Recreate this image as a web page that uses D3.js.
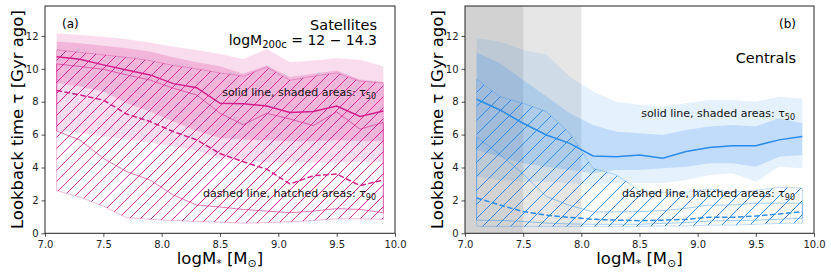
<!DOCTYPE html>
<html><head><meta charset="utf-8">
<script src="https://cdn.jsdelivr.net/npm/d3@7"></script>
<style>body{margin:0;background:#fff} svg text{font-family:"DejaVu Sans",sans-serif}</style>
</head><body><svg id="c" width="831" height="276"></svg>
<script>
// ---- data ----
const mass = [7.1,7.3,7.5,7.7,7.9,8.1,8.3,8.5,8.7,8.9,9.1,9.3,9.5,9.7,9.9];
const xTicks = [7.0,7.5,8.0,8.5,9.0,9.5,10.0];
const yTicks = [0,2,4,6,8,10,12];
const grayBands = [[7.0,8.0],[7.0,7.5]];

// Satellites (a)
const satT50Med   = [10.74,10.58,10.24,9.93,9.63,9.1,8.85,7.9,7.87,7.74,7.34,7.4,7.74,7.1,7.44];
const satT50InHi  = [11.66,11.56,11.41,11.25,11.05,10.7,10.4,10.15,9.7,10.2,9.5,9.7,9.9,9.35,9.2];
const satT50InLo  = [9.12,8.92,8.62,7.9,7.4,6.8,6.2,5.8,5.7,5.65,5.6,5.6,5.65,5.6,5.6];
const satT50OutHi = [12.15,12.05,11.95,11.8,11.6,11.35,11.15,10.9,10.6,11.2,10.4,10.5,10.65,10.55,10.15];
const satT50OutLo = [6.25,6.1,5.9,5.7,5.5,5.3,5.0,4.6,4.4,4.3,4.3,4.3,4.3,4.35,4.35];
const satT90Med   = [8.68,8.41,8.1,7.25,6.8,6.18,5.68,4.85,4.35,3.9,3.0,3.5,3.6,2.9,3.24];
const satT90InHi  = [10.3,10.14,9.97,9.63,9.32,8.82,8.41,7.3,6.6,7.3,6.95,6.55,7.38,6.33,6.74];
const satT90InLo  = [6.22,5.67,4.56,3.75,3.24,2.33,1.72,1.6,1.45,1.35,1.25,1.35,1.5,1.45,1.25];
const satT90OutHi = [11.15,11.0,10.85,10.7,10.5,10.2,10.0,9.75,9.55,10.1,9.3,9.55,9.75,9.25,9.15];
const satT90OutLo = [2.6,2.2,1.65,0.95,0.85,0.78,0.72,0.68,0.62,0.65,0.7,0.78,0.88,0.88,0.85];

// Centrals (b)
const cenT50Med   = [8.15,7.5,6.69,5.98,5.47,4.7,4.66,4.76,4.56,4.97,5.21,5.33,5.33,5.68,5.88];
const cenT50InHi  = [10.99,10.34,9.32,8.31,7.3,6.59,6.18,6.08,5.98,6.28,6.49,6.59,6.49,7.0,6.69];
const cenT50InLo  = [5.07,4.66,4.26,4.05,3.85,3.65,3.85,3.85,3.95,4.05,4.26,4.26,4.05,4.66,4.76];
const cenT50OutHi = [11.86,11.66,11.15,10.85,9.53,8.62,8.0,7.8,7.7,7.9,8.1,8.1,8.0,8.3,8.2];
const cenT50OutLo = [3.45,3.24,3.14,3.14,3.04,2.94,3.04,3.04,3.04,3.24,3.55,3.65,3.14,4.05,3.95];
const cenT90Med   = [2.15,1.72,1.32,1.1,0.97,0.85,0.8,0.77,0.8,0.85,0.97,0.97,1.05,1.17,1.32];
const cenT90InHi  = [5.85,4.8,3.6,2.23,1.7,1.3,1.3,1.32,1.38,1.52,1.72,1.72,1.83,1.83,1.83];
const cenT90InLo  = [0.8,0.78,0.72,0.62,0.57,0.55,0.55,0.55,0.6,0.65,0.75,0.78,0.8,0.85,0.92];
const cenT90OutHi = [9.37,8.31,7.9,7.4,6.08,3.95,3.55,2.6,2.5,2.5,2.7,2.5,2.6,2.8,2.75];
const cenT90OutLo = [0.42,0.42,0.42,0.42,0.42,0.42,0.42,0.42,0.45,0.45,0.5,0.5,0.55,0.6,0.62];

// ---- drawing ----
const svg = d3.select("#c");
const defs = svg.append("defs");
const yTop = 6, yBot = 233.3;

function panel(opt){
  const x = d3.scaleLinear().domain([7,10]).range([opt.x0,opt.x1]);
  const y = d3.scaleLinear().domain([0,13.82]).range([yBot,yTop]);
  const g = svg.append("g");
  const clipId = "clip"+opt.key;
  defs.append("clipPath").attr("id",clipId).append("rect")
    .attr("x",opt.x0).attr("y",yTop).attr("width",opt.x1-opt.x0).attr("height",yBot-yTop);
  const pg = g.append("g").attr("clip-path",`url(#${clipId})`);
  const area = (lo,hi)=>d3.area().x((d,i)=>x(mass[i])).y0((d,i)=>y(lo[i])).y1((d,i)=>y(hi[i]))(mass);
  const line = arr=>d3.line().x((d,i)=>x(mass[i])).y((d,i)=>y(arr[i]))(mass);
  if(opt.gray){
    grayBands.forEach(b=>pg.append("rect").attr("x",x(b[0])).attr("width",x(b[1])-x(b[0]))
      .attr("y",yTop).attr("height",yBot-yTop).attr("fill","#808080").attr("fill-opacity",0.2));
  }
  const c = opt.color;
  pg.append("path").attr("d",area(opt.t50OutLo,opt.t50OutHi)).attr("fill",c).attr("fill-opacity",opt.aOut);
  pg.append("path").attr("d",area(opt.t50InLo,opt.t50InHi)).attr("fill",c).attr("fill-opacity",opt.aIn);

  // hatched bands: diagonal lines clipped to band shape
  const H = yBot - yTop;
  function hatched(lo,hi,id,edgeOp){
    const d = area(lo,hi);
    defs.append("clipPath").attr("id",id).append("path").attr("d",d);
    const hg = pg.append("g").attr("clip-path",`url(#${id})`);
    const offs = d3.range(opt.x0 - H - opt.step, opt.x1 + opt.step, opt.step);
    hg.selectAll("line").data(offs).join("line")
      .attr("x1",o=>o).attr("y1",yBot).attr("x2",o=>o+H).attr("y2",yTop)
      .attr("stroke",opt.hatchColor).attr("stroke-width",opt.hatchW);
    pg.append("path").attr("d",d).attr("fill","none").attr("stroke",c)
      .attr("stroke-opacity",edgeOp).attr("stroke-width",1);
  }
  hatched(opt.t90OutLo,opt.t90OutHi,"ho"+opt.key,opt.eOut);
  hatched(opt.t90InLo,opt.t90InHi,"hi"+opt.key,opt.eIn);

  pg.append("path").attr("d",line(opt.t50Med)).attr("fill","none").attr("stroke",c).attr("stroke-width",1.5);
  pg.append("path").attr("d",line(opt.t90Med)).attr("fill","none").attr("stroke",c).attr("stroke-width",1.5)
    .attr("stroke-dasharray","5.5,2.5");

  // axes
  const xa = g.append("g").attr("transform",`translate(0,${yBot})`)
    .call(d3.axisBottom(x).tickValues(xTicks).tickFormat(d3.format(".1f")).tickSizeOuter(0).tickSize(3.5).tickPadding(4));
  const ya = g.append("g").attr("transform",`translate(${opt.x0},0)`)
    .call(d3.axisLeft(y).tickValues(yTicks).tickFormat(d3.format("d")).tickSizeOuter(0).tickSize(3.5).tickPadding(3));
  [xa,ya].forEach(a=>{a.select(".domain").remove();
    a.selectAll("text").attr("font-size","10px").attr("fill","#222").attr("font-family","DejaVu Sans");
    a.selectAll("line").attr("stroke","#222").attr("stroke-width",0.8);});
  g.append("rect").attr("x",opt.x0).attr("y",yTop).attr("width",opt.x1-opt.x0).attr("height",yBot-yTop)
    .attr("fill","none").attr("stroke","#222").attr("stroke-width",1);

  // labels
  const yl = g.append("text").attr("transform",`translate(${opt.x0-28},${(yTop+yBot)/2}) rotate(-90)`)
    .attr("text-anchor","middle").attr("dominant-baseline","central").attr("font-size","16.5px").attr("fill","#000");
  yl.text("Lookback time τ [Gyr ago]");
  const xl = g.append("text").attr("x",(opt.x0+opt.x1)/2).attr("y",264).attr("text-anchor","middle")
    .attr("font-size","16.5px").attr("fill","#000");
  xl.append("tspan").text("logM");
  xl.append("tspan").attr("font-size","11px").attr("dy",3).text("*");
  xl.append("tspan").attr("dy",-3).text(" [M");
  xl.append("tspan").attr("font-size","11px").attr("dy",3).text("⊙");
  xl.append("tspan").attr("dy",-3).text("]");
  return {g,x,y};
}

function tauLabel(g, xr, yb, main, sub){
  const t = g.append("text").attr("x",xr).attr("y",yb).attr("text-anchor","end").attr("font-size","11px").attr("fill","#111");
  t.append("tspan").text(main);
  t.append("tspan").attr("font-size","8px").attr("dy",2.5).text(sub);
}

const A = panel({key:"a",x0:45,x1:395,color:"#d41e8c",hatchColor:"#d41e8c",step:11,hatchW:0.9,
  aOut:0.15,aIn:0.2,eOut:0.3,eIn:0.6,gray:false,
  t50Med:satT50Med,t50InHi:satT50InHi,t50InLo:satT50InLo,t50OutHi:satT50OutHi,t50OutLo:satT50OutLo,
  t90Med:satT90Med,t90InHi:satT90InHi,t90InLo:satT90InLo,t90OutHi:satT90OutHi,t90OutLo:satT90OutLo});
A.g.append("text").attr("x",62).attr("y",28).attr("font-size","12px").text("(a)");
A.g.append("text").attr("x",377).attr("y",30).attr("text-anchor","end").attr("font-size","14.5px").text("Satellites");
const mt = A.g.append("text").attr("x",377).attr("y",45).attr("text-anchor","end").attr("font-size","14px");
mt.append("tspan").text("logM");
mt.append("tspan").attr("font-size","10px").attr("dy",3).text("200c");
mt.append("tspan").attr("dy",-3).text(" = 12 − 14.3");
tauLabel(A.g,376,96,"solid line, shaded areas: τ","50");
tauLabel(A.g,376,197,"dashed line, hatched areas: τ","90");

const B = panel({key:"b",x0:465,x1:814,color:"#2b8cee",hatchColor:"#2f8cec",step:14,hatchW:1,
  aOut:0.12,aIn:0.2,eOut:0.3,eIn:0.45,gray:true,
  t50Med:cenT50Med,t50InHi:cenT50InHi,t50InLo:cenT50InLo,t50OutHi:cenT50OutHi,t50OutLo:cenT50OutLo,
  t90Med:cenT90Med,t90InHi:cenT90InHi,t90InLo:cenT90InLo,t90OutHi:cenT90OutHi,t90OutLo:cenT90OutLo});
B.g.append("text").attr("x",796).attr("y",28).attr("text-anchor","end").attr("font-size","12px").text("(b)");
B.g.append("text").attr("x",796).attr("y",63).attr("text-anchor","end").attr("font-size","14.5px").text("Centrals");
tauLabel(B.g,795,117,"solid line, shaded areas: τ","50");
tauLabel(B.g,795,197,"dashed line, hatched areas: τ","90");
</script></body></html>
